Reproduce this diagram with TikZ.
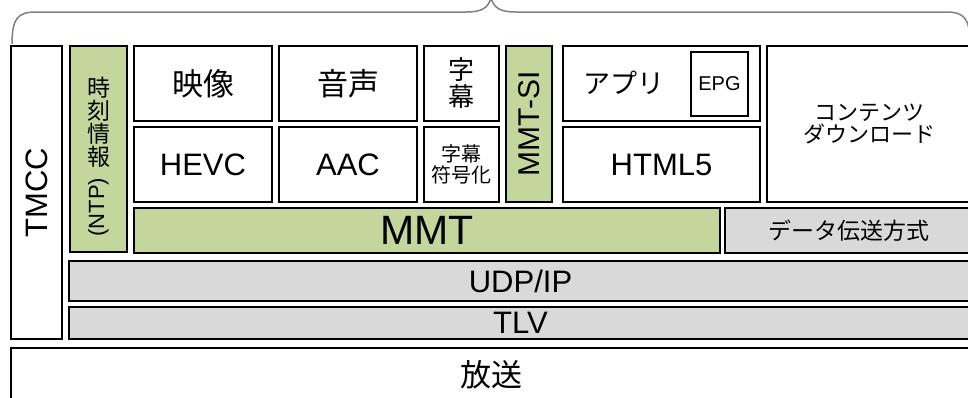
\documentclass[tikz,border=0pt]{standalone}
\usepackage{fontspec}
\setmainfont{Liberation Sans}
\newfontfamily\jp{Noto Sans CJK JP}
\definecolor{grn}{HTML}{C3D69B}
\definecolor{gry}{HTML}{D9D9D9}
\definecolor{brc}{HTML}{808080}
\newcommand\blk[7]{\node[box,#6,minimum width={#4-#2-2},minimum height={#5-#3-2}] (#1) at ({(#2+#4)/2},{(#3+#5)/2}) {#7};}
\begin{document}
\begin{tikzpicture}[x=1pt,y=-1pt,
  box/.style={draw=black,line width=2.4pt,rectangle,inner sep=0pt,fill=white,align=center},
  green/.style={fill=grn},
  grey/.style={fill=gry},
  lat/.style={font=\fontsize{31}{33}\selectfont},
  jpb/.style={font=\jp\fontsize{31}{33}\selectfont},
  txt/.style={inner sep=0pt,align=center},
  brace/.style={draw=brc,line width=1.5pt}]
\useasboundingbox (0,0) rectangle (968,397);
\clip (0,0) rectangle (968,397);
% brace
\draw[brace] (12,44) .. controls (12,18) and (18,12) .. (36,12) -- (466,12)
  .. controls (482,12) and (488,8) .. (491,-2)
  .. controls (494,8) and (500,12) .. (516,12) -- (946,12)
  .. controls (964,12) and (970,18) .. (970,44);
% left columns
\blk{tmcc}{10}{45}{63}{340}{}{\rotatebox{90}{\fontsize{31}{33}\selectfont TMCC}}
\blk{ntp}{69}{45}{128}{253}{green}{}
\node[txt,font=\jp\fontsize{23}{23}\selectfont] (ntpjp) at (98.5,122) {時\\刻\\情\\報};
\node[txt,font=\fontsize{22}{24}\selectfont,rotate=90] (ntpen) at (98.5,207) {(NTP)};
% top row
\blk{eizo}{133}{45}{273}{122}{jpb}{映像}
\blk{hevc}{133}{126}{273}{203}{lat}{HEVC}
\blk{onsei}{278}{45}{418}{122}{jpb}{音声}
\blk{aac}{278}{126}{418}{203}{lat}{AAC}
\blk{jimaku}{423}{45}{500}{122}{font=\jp\fontsize{26}{27}\selectfont}{字\\幕}
\blk{jfugo}{423}{126}{500}{203}{font=\jp\fontsize{20}{20.5}\selectfont}{字幕\\符号化}
\blk{mmtsi}{505}{45}{553}{203}{green}{\rotatebox{90}{\fontsize{30}{32}\selectfont MMT-SI}}
\blk{appli}{562}{45}{761}{122}{}{}
\node[txt,font=\jp\fontsize{27}{29}\selectfont] (applit) at (624,83) {アプリ};
\node[box,line width=2pt,minimum width=57,minimum height=64,font=\fontsize{20}{22}\selectfont] (epg) at (719.5,84) {EPG};
\blk{html}{562}{126}{761}{203}{lat}{HTML5}
\blk{dl}{766}{45}{973}{203}{font=\jp\fontsize{22}{22}\selectfont}{コンテンツ\\ダウンロード}
% MMT row
\blk{mmt}{133}{207}{721}{254}{green,font=\fontsize{41}{43}\selectfont}{MMT}
\blk{data}{724}{207}{973}{254}{grey,font=\jp\fontsize{23}{25}\selectfont}{データ伝送方式}
% lower layers
\blk{udp}{68}{260}{973}{302}{grey,lat}{UDP/IP}
\blk{tlv}{68}{306}{973}{340}{grey,lat}{TLV}
\blk{hoso}{10}{347}{973}{405}{}{}
\node[txt,font=\jp\fontsize{31}{33}\selectfont] (hosot) at (491.5,375) {放送};
\end{tikzpicture}
\end{document}
